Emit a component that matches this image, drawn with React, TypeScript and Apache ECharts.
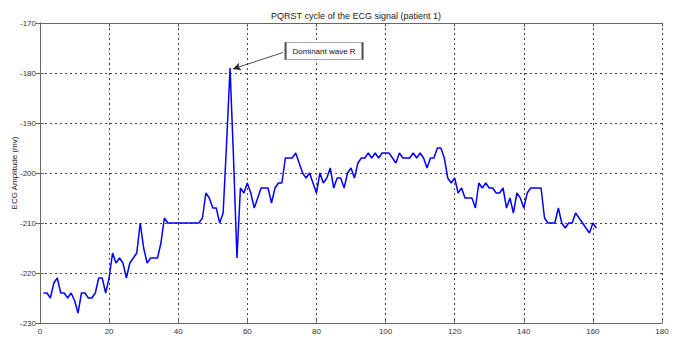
import React, { useEffect, useRef } from "react";
import * as echarts from "echarts";

const timeMs: number[] = [];
for (let t = 1; t <= 161; t++) timeMs.push(t);

const amplitude: number[] = [
  -224, -224, -225, -222, -221, -224, -224, -225, -224, -225.5,
  -228, -224, -224, -225, -225, -224, -221, -221, -224, -221,
  -216, -218, -217, -218, -221, -218, -217, -216, -210, -215,
  -218, -217, -217, -217, -214, -209, -210, -210, -210, -210,
  -210, -210, -210, -210, -210, -210, -209, -204, -205, -207,
  -207, -210, -208, -194, -179, -197, -217, -203, -204, -202,
  -204, -207, -205, -203, -203, -203, -206, -203, -202, -202,
  -197, -197, -197, -196, -198, -200, -201, -200, -202, -204,
  -200, -202, -201, -199, -203, -201, -201, -203, -200, -199,
  -201, -198, -197, -197, -196, -197, -196, -197, -196, -196,
  -196, -197, -198, -196, -197, -197, -197, -196, -197, -196,
  -197, -199, -197, -197, -195, -195, -197, -201, -202, -201,
  -204, -203, -205, -205, -205, -207, -202, -203, -202, -203,
  -203, -204, -204, -203, -207, -205, -208, -204, -205, -207,
  -204, -203, -203, -203, -203, -209, -210, -210, -210, -207,
  -210, -211, -210, -210, -208, -209, -210, -211, -212, -210,
  -211,
];

const titleText = "PQRST cycle of the ECG signal (patient 1)";
const xName = "time (msec)";
const yName = "ECG Amplitude (mv)";
const annotationText = "Dominant wave R";
const arrowFrom: [number, number] = [70.3, -175.9];
const arrowTo: [number, number] = [55.8, -179.2];
const boxAnchor: [number, number] = [82.2, -175.6];

export default function App() {
  const ref = useRef<HTMLDivElement>(null);
  useEffect(() => {
    if (!ref.current) return;
    const chart = echarts.init(ref.current, null, { renderer: "svg" });
    const font = "Arial, 'Liberation Sans', sans-serif";
    const splitStyle = { show: true, lineStyle: { color: "#444", type: [2, 3] as any, width: 1 } };
    chart.setOption({
      animation: false,
      backgroundColor: "#fff",
      title: [
        {
          text: titleText,
          left: 351,
          textAlign: "center",
          top: 6,
          textStyle: { fontSize: 9, fontWeight: "normal", color: "#222", fontFamily: font },
        },
        {
          text: xName,
          left: 351,
          textAlign: "center",
          top: 333,
          padding: 0,
          textStyle: { fontSize: 8, fontWeight: "normal", color: "#222", fontFamily: font },
        },
      ],
      grid: { left: 40, right: 15, top: 23, bottom: 20, outerBoundsMode: "none", containLabel: false },
      xAxis: [
        {
          type: "value",
          min: 0,
          max: 180,
          interval: 20,
          axisLine: { lineStyle: { color: "#666" } },
          axisTick: { inside: true, length: 4, lineStyle: { color: "#666" } },
          axisLabel: { fontSize: 8, color: "#333", fontFamily: font, margin: 4 },
          splitLine: splitStyle,
        },
        {
          type: "value",
          position: "top",
          min: 0,
          max: 180,
          interval: 20,
          axisLine: { show: true, lineStyle: { color: "#666" } },
          axisTick: { show: true, inside: true, length: 4, lineStyle: { color: "#666" } },
          axisLabel: { show: false },
          splitLine: { show: false },
        },
      ],
      yAxis: [
        {
          type: "value",
          min: -230,
          max: -170,
          interval: 10,
          name: yName,
          nameLocation: "middle",
          nameGap: 22,
          nameMoveOverlap: false,
          nameTextStyle: { fontSize: 8, color: "#222", fontFamily: font },
          axisLine: { show: true, lineStyle: { color: "#666" } },
          axisTick: { show: true, inside: true, length: 4, lineStyle: { color: "#666" } },
          axisLabel: { fontSize: 8, color: "#333", fontFamily: font, margin: 4 },
          splitLine: splitStyle,
        },
        {
          type: "value",
          position: "right",
          min: -230,
          max: -170,
          interval: 10,
          axisLine: { show: true, lineStyle: { color: "#666" } },
          axisTick: { show: true, inside: true, length: 4, lineStyle: { color: "#666" } },
          axisLabel: { show: false },
          splitLine: { show: false },
        },
      ],
      series: [
        {
          type: "line",
          data: timeMs.map((t, i) => [t, amplitude[i]]),
          showSymbol: false,
          lineStyle: { color: "#0000ff", width: 1.5 },
          itemStyle: { color: "#0000ff" },
          markLine: {
            silent: true,
            symbol: ["none", "arrow"],
            symbolSize: [6, 8],
            label: { show: false },
            lineStyle: { color: "#222", type: "solid", width: 0.8 },
            data: [[{ coord: arrowFrom }, { coord: arrowTo }]],
          },
          markPoint: {
            silent: true,
            symbol: "rect",
            symbolSize: [77, 17],
            itemStyle: { color: "#fff", borderColor: "#555", borderWidth: 1 },
            label: {
              show: true,
              position: "inside",
              formatter: annotationText,
              fontSize: 8,
              color: "#111",
              fontFamily: font,
            },
            data: [{ coord: boxAnchor }],
          },
        },
      ],
    });
    return () => chart.dispose();
  }, []);
  return <div ref={ref} style={{ width: 677, height: 343, margin: -8 }} />;
}
